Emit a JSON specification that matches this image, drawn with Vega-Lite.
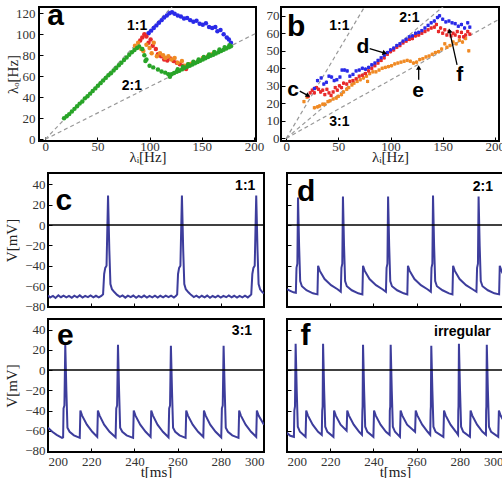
{
  "$schema": "https://vega.github.io/schema/vega-lite/v6.json",
  "padding": {"left": 2, "top": 0, "right": 0, "bottom": 0},
  "background": "white",
  "datasets": {
    "scatterA": [
      {"x":99,"y":101,"c":"blue"},{"x":101.5,"y":103.5,"c":"blue"},{"x":104,"y":106,"c":"blue"},{"x":106.5,"y":108.5,"c":"blue"},{"x":109,"y":111,"c":"blue"},{"x":111.5,"y":113.5,"c":"blue"},{"x":114,"y":116,"c":"blue"},{"x":116.5,"y":118,"c":"blue"},{"x":119,"y":120,"c":"blue"},{"x":121.5,"y":121,"c":"blue"},{"x":124,"y":119.5,"c":"blue"},{"x":127,"y":118,"c":"blue"},{"x":130,"y":117,"c":"blue"},{"x":133,"y":115,"c":"blue"},{"x":136,"y":115.5,"c":"blue"},{"x":139,"y":113.5,"c":"blue"},{"x":142,"y":112,"c":"blue"},{"x":145,"y":113,"c":"blue"},{"x":148,"y":110,"c":"blue"},{"x":151,"y":109,"c":"blue"},{"x":154,"y":110.5,"c":"blue"},{"x":157,"y":107,"c":"blue"},{"x":160,"y":106,"c":"blue"},{"x":163,"y":107,"c":"blue"},{"x":165,"y":103,"c":"blue"},{"x":168,"y":104,"c":"blue"},{"x":171,"y":100,"c":"blue"},{"x":174,"y":97,"c":"blue"},{"x":176,"y":95,"c":"blue"},{"x":178,"y":92,"c":"blue"},
      {"x":91,"y":94,"c":"red"},{"x":93,"y":97,"c":"red"},{"x":95,"y":100,"c":"red"},{"x":97,"y":98,"c":"red"},{"x":99,"y":92,"c":"red"},{"x":101,"y":95,"c":"red"},{"x":103,"y":89,"c":"red"},{"x":106,"y":86,"c":"red"},{"x":108,"y":81,"c":"red"},{"x":111,"y":79,"c":"red"},{"x":114,"y":76,"c":"red"},{"x":117,"y":75,"c":"red"},{"x":120,"y":77,"c":"red"},{"x":123,"y":74.5,"c":"red"},{"x":126,"y":73,"c":"red"},{"x":129,"y":71.5,"c":"red"},{"x":132,"y":70,"c":"red"},{"x":135,"y":67,"c":"red"},
      {"x":86,"y":89,"c":"orange"},{"x":89,"y":92,"c":"orange"},{"x":92,"y":86,"c":"orange"},{"x":94,"y":84,"c":"orange"},{"x":97,"y":90,"c":"orange"},{"x":100,"y":87,"c":"orange"},{"x":102,"y":82,"c":"orange"},{"x":104,"y":92,"c":"orange"},{"x":107,"y":79,"c":"orange"},{"x":110,"y":82,"c":"orange"},{"x":113,"y":80,"c":"orange"},{"x":115,"y":77.5,"c":"orange"},{"x":118,"y":79,"c":"orange"},{"x":121,"y":76,"c":"orange"},{"x":124,"y":77.5,"c":"orange"},{"x":127,"y":73,"c":"orange"},{"x":131,"y":74.5,"c":"orange"},{"x":134,"y":70,"c":"orange"},{"x":137,"y":71.5,"c":"orange"},{"x":140,"y":72,"c":"orange"},{"x":143,"y":73,"c":"orange"},{"x":147,"y":74.5,"c":"orange"},{"x":151,"y":77.5,"c":"orange"},{"x":156,"y":79,"c":"orange"},{"x":160,"y":81,"c":"orange"},
      {"x":18,"y":20,"c":"green"},{"x":20.5,"y":22,"c":"green"},{"x":23,"y":24,"c":"green"},{"x":25.5,"y":26.5,"c":"green"},{"x":28,"y":29,"c":"green"},{"x":30.5,"y":31.5,"c":"green"},{"x":33,"y":34,"c":"green"},{"x":35.5,"y":36,"c":"green"},{"x":38,"y":39,"c":"green"},{"x":40.5,"y":41,"c":"green"},{"x":43,"y":43.5,"c":"green"},{"x":45.5,"y":46,"c":"green"},{"x":48,"y":48.5,"c":"green"},{"x":50.5,"y":51,"c":"green"},{"x":53,"y":53.5,"c":"green"},{"x":55.5,"y":56,"c":"green"},{"x":58,"y":58.5,"c":"green"},{"x":60.5,"y":61,"c":"green"},{"x":63,"y":63,"c":"green"},{"x":65.5,"y":65.5,"c":"green"},{"x":68,"y":68,"c":"green"},{"x":70.5,"y":70.5,"c":"green"},{"x":73,"y":73,"c":"green"},{"x":75.5,"y":75.5,"c":"green"},{"x":78,"y":78,"c":"green"},{"x":80.5,"y":80.5,"c":"green"},{"x":83,"y":83,"c":"green"},{"x":85.5,"y":85,"c":"green"},{"x":88,"y":87,"c":"green"},{"x":90,"y":88.5,"c":"green"},
      {"x":93,"y":86,"c":"green"},{"x":95,"y":80,"c":"green"},{"x":97,"y":76,"c":"green"},{"x":96,"y":74.5,"c":"green"},{"x":100,"y":70,"c":"green"},{"x":103.5,"y":68.5,"c":"green"},{"x":108,"y":66.5,"c":"green"},{"x":111.5,"y":64.5,"c":"green"},{"x":115,"y":63.5,"c":"green"},{"x":118,"y":62,"c":"green"},{"x":119.5,"y":59.5,"c":"green"},
      {"x":121,"y":62,"c":"green"},{"x":123.5,"y":63.1,"c":"green"},{"x":126,"y":64.3,"c":"green"},{"x":128.5,"y":65.4,"c":"green"},{"x":131,"y":66.6,"c":"green"},{"x":133.5,"y":67.8,"c":"green"},{"x":136,"y":69,"c":"green"},{"x":138.5,"y":70.1,"c":"green"},{"x":141,"y":71.3,"c":"green"},{"x":143.5,"y":72.5,"c":"green"},{"x":146,"y":73.6,"c":"green"},{"x":148.5,"y":74.8,"c":"green"},{"x":151,"y":76,"c":"green"},{"x":153.5,"y":77.1,"c":"green"},{"x":156,"y":78.3,"c":"green"},{"x":158.5,"y":79.5,"c":"green"},{"x":161,"y":80.6,"c":"green"},{"x":163.5,"y":81.8,"c":"green"},{"x":166,"y":83,"c":"green"},{"x":168.5,"y":84.2,"c":"green"},{"x":171,"y":85.3,"c":"green"},{"x":173.5,"y":86.5,"c":"green"},{"x":176,"y":87.7,"c":"green"},{"x":178,"y":88.6,"c":"green"},
      {"x":127,"y":66.7,"c":"green"},{"x":132,"y":69,"c":"green"},{"x":137,"y":71.4,"c":"green"},{"x":142,"y":73.8,"c":"green"},{"x":147,"y":76.1,"c":"green"},{"x":152,"y":78.4,"c":"green"},{"x":157,"y":80.8,"c":"green"},{"x":162,"y":83.1,"c":"green"},{"x":167,"y":85.5,"c":"green"},{"x":172,"y":87.8,"c":"green"},{"x":176.5,"y":89.5,"c":"green"}
    ],
    "scatterB": [
      {"x":17,"y":21,"c":"orange","err":1},{"x":20,"y":23.5,"c":"orange","err":1},{"x":27,"y":17.5,"c":"orange","err":1},{"x":30,"y":18,"c":"orange","err":1},{"x":32,"y":18.5,"c":"orange","err":1},{"x":35,"y":19.5,"c":"orange","err":1},{"x":37,"y":19.5,"c":"orange","err":1},{"x":40,"y":21,"c":"orange","err":1},{"x":42,"y":21.5,"c":"orange","err":1},{"x":45,"y":22.5,"c":"orange","err":1},{"x":48,"y":23,"c":"orange","err":1},{"x":50,"y":24,"c":"orange","err":1},{"x":53,"y":25,"c":"orange","err":1},{"x":55,"y":26.5,"c":"orange","err":1},{"x":58,"y":28,"c":"orange","err":1},{"x":60,"y":29,"c":"orange","err":1},{"x":63,"y":30.5,"c":"orange","err":1},{"x":65,"y":31.5,"c":"orange","err":1},{"x":68,"y":32.5,"c":"orange","err":1},{"x":71,"y":33.5,"c":"orange","err":1},{"x":74,"y":34.5,"c":"orange","err":1},{"x":77,"y":35.5,"c":"orange","err":1},{"x":78,"y":32.5,"c":"orange","err":1},{"x":80,"y":37,"c":"orange","err":1},{"x":83,"y":38,"c":"orange","err":1},{"x":86,"y":38,"c":"orange","err":1},{"x":89,"y":39,"c":"orange","err":1},{"x":92,"y":40,"c":"orange","err":1},{"x":95,"y":40.5,"c":"orange","err":1},{"x":98,"y":41,"c":"orange","err":1},{"x":101,"y":41.5,"c":"orange","err":1},{"x":104,"y":42.5,"c":"orange","err":1},{"x":107,"y":43,"c":"orange","err":1},{"x":110,"y":43.5,"c":"orange","err":1},{"x":113,"y":44,"c":"orange","err":1},{"x":116,"y":44.5,"c":"orange","err":1},{"x":119,"y":44,"c":"orange","err":1},{"x":122,"y":43,"c":"orange","err":1},{"x":125,"y":43.5,"c":"orange","err":1},{"x":128,"y":45,"c":"orange","err":1},{"x":131,"y":45.5,"c":"orange","err":1},{"x":134,"y":46.5,"c":"orange","err":1},{"x":137,"y":47,"c":"orange","err":1},{"x":140,"y":48,"c":"orange","err":1},{"x":143,"y":49,"c":"orange","err":1},{"x":146,"y":49.5,"c":"orange","err":1},{"x":149,"y":51,"c":"orange","err":1},{"x":152,"y":54,"c":"orange","err":1},{"x":154,"y":52,"c":"orange","err":1},{"x":157,"y":53,"c":"orange","err":1},{"x":160,"y":55,"c":"orange","err":1},{"x":163,"y":54,"c":"orange","err":1},{"x":166,"y":56,"c":"orange","err":1},{"x":169,"y":55,"c":"orange","err":1},{"x":172,"y":57,"c":"orange","err":1},{"x":175,"y":50,"c":"orange","err":1},
      {"x":21,"y":24,"c":"red","err":1},{"x":23,"y":26,"c":"red","err":1},{"x":25,"y":27.5,"c":"red","err":1},{"x":27,"y":26,"c":"red","err":1},{"x":29,"y":29,"c":"red","err":1},{"x":31,"y":28,"c":"red","err":1},{"x":33,"y":26.5,"c":"red","err":1},{"x":35,"y":27.5,"c":"red","err":1},{"x":37,"y":25,"c":"red","err":1},{"x":39,"y":28,"c":"red","err":1},{"x":41,"y":26,"c":"red","err":1},{"x":43,"y":24.5,"c":"red","err":1},{"x":45,"y":26.5,"c":"red","err":1},{"x":47,"y":29,"c":"red","err":1},{"x":49,"y":27.5,"c":"red","err":1},{"x":51,"y":30,"c":"red","err":1},{"x":53,"y":29,"c":"red","err":1},{"x":55,"y":31.5,"c":"red","err":1},{"x":58,"y":31,"c":"red","err":1},{"x":61,"y":32.5,"c":"red","err":1},{"x":64,"y":33,"c":"red","err":1},{"x":67,"y":34,"c":"red","err":1},{"x":70,"y":35.5,"c":"red","err":1},{"x":73,"y":36,"c":"red","err":1},{"x":76,"y":37,"c":"red","err":1},{"x":79,"y":38.5,"c":"red","err":1},{"x":82,"y":40,"c":"red","err":1},{"x":85,"y":41.5,"c":"red","err":1},{"x":88,"y":43,"c":"red","err":1},{"x":91,"y":44.5,"c":"red","err":1},{"x":94,"y":46,"c":"red","err":1},{"x":97,"y":48,"c":"red","err":1},{"x":100,"y":49.5,"c":"red","err":1},{"x":103,"y":50.5,"c":"red","err":1},{"x":106,"y":52,"c":"red","err":1},{"x":109,"y":53,"c":"red","err":1},{"x":112,"y":54.5,"c":"red","err":1},{"x":115,"y":55.5,"c":"red","err":1},{"x":118,"y":56.5,"c":"red","err":1},{"x":121,"y":57,"c":"red","err":1},{"x":124,"y":58.5,"c":"red","err":1},{"x":127,"y":59,"c":"red","err":1},{"x":130,"y":60,"c":"red","err":1},{"x":133,"y":61,"c":"red","err":1},{"x":136,"y":62,"c":"red","err":1},{"x":139,"y":63,"c":"red","err":1},{"x":142,"y":63.5,"c":"red","err":1},{"x":144,"y":65,"c":"red","err":1},{"x":146,"y":61,"c":"red","err":1},{"x":148,"y":63,"c":"red","err":1},{"x":150,"y":60,"c":"red","err":1},{"x":152,"y":62,"c":"red","err":1},{"x":154,"y":59,"c":"red","err":1},{"x":156,"y":61,"c":"red","err":1},{"x":158,"y":58.5,"c":"red","err":1},{"x":160,"y":60,"c":"red","err":1},{"x":162,"y":59,"c":"red","err":1},{"x":164,"y":61,"c":"red","err":1},{"x":166,"y":58,"c":"red","err":1},{"x":168,"y":60.5,"c":"red","err":1},{"x":170,"y":58,"c":"red","err":1},{"x":172,"y":59,"c":"red","err":1},{"x":174,"y":61,"c":"red","err":1},{"x":176,"y":59.5,"c":"red","err":1},
      {"x":27,"y":28.5,"c":"blue","err":1},{"x":30,"y":33,"c":"blue","err":1},{"x":33.5,"y":34.5,"c":"blue","err":1},{"x":36,"y":31,"c":"blue","err":1},{"x":38.5,"y":32,"c":"blue","err":1},{"x":41,"y":35.5,"c":"blue","err":1},{"x":43.5,"y":35,"c":"blue","err":1},{"x":46,"y":33,"c":"blue","err":1},{"x":48.5,"y":33.5,"c":"blue","err":1},{"x":51.5,"y":35,"c":"blue","err":1},{"x":53.5,"y":39,"c":"blue","err":1},{"x":56,"y":39,"c":"blue","err":1},{"x":58.5,"y":38.5,"c":"blue","err":1},{"x":61,"y":35.5,"c":"blue","err":1},{"x":64,"y":36.5,"c":"blue","err":1},{"x":67,"y":38.5,"c":"blue","err":1},{"x":70,"y":39,"c":"blue","err":1},{"x":73,"y":40,"c":"blue","err":1},{"x":76,"y":39.5,"c":"blue","err":1},{"x":79,"y":40.5,"c":"blue","err":1},{"x":82,"y":42,"c":"blue","err":1},{"x":85,"y":43,"c":"blue","err":1},{"x":88,"y":44.5,"c":"blue","err":1},{"x":91,"y":46,"c":"blue","err":1},{"x":94,"y":47.5,"c":"blue","err":1},{"x":97,"y":49,"c":"blue","err":1},{"x":100,"y":50.5,"c":"blue","err":1},{"x":103,"y":51.5,"c":"blue","err":1},{"x":106,"y":53,"c":"blue","err":1},{"x":109,"y":54,"c":"blue","err":1},{"x":112,"y":55.5,"c":"blue","err":1},{"x":115,"y":56.5,"c":"blue","err":1},{"x":118,"y":58,"c":"blue","err":1},{"x":121,"y":58.5,"c":"blue","err":1},{"x":124,"y":60,"c":"blue","err":1},{"x":127,"y":60.5,"c":"blue","err":1},{"x":130,"y":61.5,"c":"blue","err":1},{"x":133,"y":63,"c":"blue","err":1},{"x":136,"y":64.5,"c":"blue","err":1},{"x":139,"y":66,"c":"blue","err":1},{"x":142,"y":67,"c":"blue","err":1},{"x":145,"y":69,"c":"blue","err":1},{"x":147,"y":70,"c":"blue","err":1},{"x":150,"y":68,"c":"blue","err":1},{"x":153,"y":66.5,"c":"blue","err":1},{"x":156,"y":67,"c":"blue","err":1},{"x":159,"y":66,"c":"blue","err":1},{"x":162,"y":65.5,"c":"blue","err":1},{"x":165,"y":64,"c":"blue","err":1},{"x":168,"y":65,"c":"blue","err":1},{"x":171,"y":63,"c":"blue","err":1},{"x":174,"y":66,"c":"blue","err":1},{"x":176,"y":63.5,"c":"blue","err":1}
    ],
    "traceC": [
      {"t":200,"v":-69},{"t":201,"v":-71},{"t":202.3,"v":-69.5},{"t":203.5,"v":-71.5},{"t":204.8,"v":-69},{"t":206,"v":-70.8},{"t":207.2,"v":-69.2},{"t":208.5,"v":-71},{"t":209.7,"v":-69.6},{"t":211,"v":-71.3},{"t":212.2,"v":-69.3},{"t":213.5,"v":-70.9},{"t":214.7,"v":-69},{"t":216,"v":-71.2},{"t":217.2,"v":-69.5},{"t":218.5,"v":-70.7},{"t":219.7,"v":-69.1},{"t":221,"v":-71},{"t":222.2,"v":-69.4},{"t":223.5,"v":-71},{"t":224.7,"v":-69.5},{"t":225.5,"v":-68},{"t":226,"v":-48},{"t":226.5,"v":-42},{"t":227.1,"v":-40},{"t":227.8,"v":29},{"t":228.4,"v":-25},{"t":228.9,"v":-58},{"t":229.6,"v":-63},{"t":230.8,"v":-66},{"t":232,"v":-68.5},{"t":233.3,"v":-70.5},{"t":234.5,"v":-69},{"t":235.8,"v":-71.2},{"t":237,"v":-69.3},{"t":238.3,"v":-70.8},{"t":239.5,"v":-69.2},{"t":240.8,"v":-71.3},{"t":242,"v":-69.6},{"t":243.3,"v":-71},{"t":244.5,"v":-69.2},{"t":245.8,"v":-71.1},{"t":247,"v":-69.5},{"t":248.3,"v":-70.9},{"t":249.5,"v":-69.3},{"t":250.8,"v":-71.2},{"t":252,"v":-69.4},{"t":253.3,"v":-71},{"t":254.5,"v":-69.3},{"t":255.8,"v":-70.8},{"t":257,"v":-69.2},{"t":258.3,"v":-71.1},{"t":259.3,"v":-69.4},{"t":259.8,"v":-68},{"t":260.2,"v":-48},{"t":260.7,"v":-42},{"t":261.3,"v":-40},{"t":262,"v":29},{"t":262.6,"v":-25},{"t":263.1,"v":-58},{"t":263.8,"v":-63},{"t":265,"v":-66},{"t":266.2,"v":-68.5},{"t":267.5,"v":-70.6},{"t":268.7,"v":-69.2},{"t":270,"v":-71.2},{"t":271.2,"v":-69.4},{"t":272.5,"v":-70.9},{"t":273.7,"v":-69.2},{"t":275,"v":-71.3},{"t":276.2,"v":-69.6},{"t":277.5,"v":-71},{"t":278.7,"v":-69.3},{"t":280,"v":-71.2},{"t":281.2,"v":-69.5},{"t":282.5,"v":-70.8},{"t":283.7,"v":-69.1},{"t":285,"v":-71},{"t":286.2,"v":-69.4},{"t":287.5,"v":-71.2},{"t":288.7,"v":-69.5},{"t":290,"v":-70.9},{"t":291.2,"v":-69.3},{"t":292.5,"v":-71},{"t":293.6,"v":-69.2},{"t":294.1,"v":-68},{"t":294.6,"v":-48},{"t":295.1,"v":-42},{"t":295.7,"v":-40},{"t":296.4,"v":29},{"t":297,"v":-25},{"t":297.5,"v":-58},{"t":298.2,"v":-63},{"t":299.3,"v":-66},{"t":300,"v":-67}
    ],
    "traceD": [
      {"t":200,"v":-63},{"t":201.5,"v":-64.5},{"t":203,"v":-66},{"t":204.1,"v":-66.5},{"t":204.4,"v":-42},{"t":204.8,"v":-38},{"t":205.1,"v":27},{"t":205.6,"v":-20},{"t":206.1,"v":-55},{"t":206.9,"v":-60},{"t":209,"v":-64},{"t":212,"v":-67},{"t":214.1,"v":-68},{"t":214.4,"v":-40},{"t":215.2,"v":-45},{"t":217.4,"v":-53},{"t":220.4,"v":-59},{"t":223.4,"v":-63},{"t":224.9,"v":-65.5},{"t":225.2,"v":-42},{"t":225.6,"v":-38},{"t":225.9,"v":28},{"t":226.4,"v":-20},{"t":226.9,"v":-55},{"t":227.7,"v":-60},{"t":230,"v":-64},{"t":233,"v":-67},{"t":234.9,"v":-68},{"t":235.2,"v":-40},{"t":236,"v":-45},{"t":238.2,"v":-53},{"t":241.2,"v":-59},{"t":244.2,"v":-63},{"t":245.8,"v":-65.5},{"t":246.1,"v":-42},{"t":246.5,"v":-38},{"t":246.8,"v":28},{"t":247.3,"v":-20},{"t":247.8,"v":-55},{"t":248.6,"v":-60},{"t":251,"v":-64},{"t":254,"v":-67},{"t":255.7,"v":-68},{"t":256,"v":-40},{"t":256.8,"v":-45},{"t":259,"v":-53},{"t":262,"v":-59},{"t":265,"v":-63},{"t":266.6,"v":-65.5},{"t":266.9,"v":-42},{"t":267.3,"v":-38},{"t":267.6,"v":29},{"t":268.1,"v":-20},{"t":268.6,"v":-55},{"t":269.4,"v":-60},{"t":272,"v":-64},{"t":275,"v":-67},{"t":276.6,"v":-68},{"t":276.9,"v":-40},{"t":277.7,"v":-45},{"t":279.9,"v":-53},{"t":282.9,"v":-59},{"t":285.9,"v":-63},{"t":287.7,"v":-65.5},{"t":288,"v":-42},{"t":288.4,"v":-38},{"t":288.7,"v":28},{"t":289.2,"v":-20},{"t":289.7,"v":-55},{"t":290.5,"v":-60},{"t":293,"v":-64},{"t":296,"v":-67},{"t":298.2,"v":-68},{"t":298.5,"v":-40},{"t":299.3,"v":-45},{"t":300,"v":-48}
    ],
    "traceE": [
      {"t":200,"v":-57},{"t":202,"v":-61},{"t":204,"v":-64},{"t":206.5,"v":-67},{"t":207,"v":-66.5},{"t":207.2,"v":-38},{"t":207.6,"v":-35},{"t":208,"v":25},{"t":208.5,"v":-20},{"t":209,"v":-57},{"t":210,"v":-61},{"t":212,"v":-64.5},{"t":214.7,"v":-67},{"t":215,"v":-40},{"t":215.8,"v":-45},{"t":218,"v":-54},{"t":220.5,"v":-61},{"t":222.8,"v":-66},{"t":223.1,"v":-40},{"t":223.9,"v":-45},{"t":226,"v":-54},{"t":228.5,"v":-61},{"t":231.3,"v":-66.5},{"t":231.6,"v":-38},{"t":232,"v":-35},{"t":232.4,"v":25},{"t":232.9,"v":-20},{"t":233.4,"v":-57},{"t":234.4,"v":-61},{"t":236.4,"v":-64.5},{"t":239.4,"v":-67},{"t":239.7,"v":-40},{"t":240.5,"v":-45},{"t":242.7,"v":-54},{"t":245.2,"v":-61},{"t":247.5,"v":-66},{"t":247.8,"v":-40},{"t":248.6,"v":-45},{"t":250.7,"v":-54},{"t":253.2,"v":-61},{"t":255.8,"v":-66.5},{"t":256.1,"v":-38},{"t":256.5,"v":-35},{"t":256.9,"v":24},{"t":257.4,"v":-20},{"t":257.9,"v":-57},{"t":258.9,"v":-61},{"t":260.9,"v":-64.5},{"t":263.7,"v":-67},{"t":264,"v":-40},{"t":264.8,"v":-45},{"t":267,"v":-54},{"t":269.5,"v":-61},{"t":271.9,"v":-66},{"t":272.2,"v":-40},{"t":273,"v":-45},{"t":275.1,"v":-54},{"t":277.6,"v":-61},{"t":280.2,"v":-66.5},{"t":280.5,"v":-38},{"t":280.9,"v":-35},{"t":281.3,"v":24},{"t":281.8,"v":-20},{"t":282.3,"v":-57},{"t":283.3,"v":-61},{"t":285.3,"v":-64.5},{"t":288.2,"v":-67},{"t":288.5,"v":-40},{"t":289.3,"v":-45},{"t":291.5,"v":-54},{"t":294,"v":-61},{"t":296.4,"v":-66},{"t":296.7,"v":-40},{"t":297.5,"v":-45},{"t":299.7,"v":-53},{"t":300,"v":-54}
    ],
    "traceF": [
      {"t":200,"v":-62},{"t":201.5,"v":-65},{"t":203.2,"v":-66},{"t":203.4,"v":-40},{"t":203.7,"v":-36},{"t":204,"v":26},{"t":204.5,"v":-20},{"t":205,"v":-56},{"t":206,"v":-61},{"t":208.6,"v":-66},{"t":208.9,"v":-40},{"t":209.7,"v":-45},{"t":211.9,"v":-54},{"t":214.4,"v":-61},{"t":216.1,"v":-64},{"t":216.3,"v":-40},{"t":216.5,"v":-36},{"t":216.7,"v":26},{"t":217.2,"v":-20},{"t":217.7,"v":-56},{"t":218.7,"v":-61},{"t":221.5,"v":-66},{"t":221.8,"v":-40},{"t":222.6,"v":-45},{"t":224.8,"v":-54},{"t":227.6,"v":-60},{"t":227.9,"v":-40},{"t":228.7,"v":-45},{"t":230.9,"v":-54},{"t":233.4,"v":-61},{"t":234.7,"v":-64},{"t":234.9,"v":-40},{"t":235,"v":-36},{"t":235.2,"v":25},{"t":235.7,"v":-20},{"t":236.2,"v":-56},{"t":237.2,"v":-61},{"t":240,"v":-66},{"t":240.3,"v":-40},{"t":241.1,"v":-45},{"t":243.3,"v":-54},{"t":245.8,"v":-61},{"t":247.5,"v":-64},{"t":247.6,"v":-40},{"t":247.8,"v":-36},{"t":248,"v":25},{"t":248.5,"v":-20},{"t":249,"v":-56},{"t":250,"v":-61},{"t":252.3,"v":-66},{"t":252.6,"v":-40},{"t":253.4,"v":-45},{"t":255.6,"v":-54},{"t":259.3,"v":-61},{"t":259.6,"v":-40},{"t":260.4,"v":-45},{"t":262.6,"v":-54},{"t":265.1,"v":-61},{"t":266.3,"v":-64},{"t":266.5,"v":-40},{"t":266.6,"v":-36},{"t":266.8,"v":24},{"t":267.3,"v":-20},{"t":267.8,"v":-56},{"t":268.8,"v":-61},{"t":272.4,"v":-66},{"t":272.7,"v":-40},{"t":273.5,"v":-45},{"t":275.7,"v":-54},{"t":278.2,"v":-61},{"t":279.2,"v":-64},{"t":279.3,"v":-40},{"t":279.4,"v":-36},{"t":279.6,"v":26},{"t":280.1,"v":-20},{"t":280.6,"v":-56},{"t":281.6,"v":-61},{"t":284.7,"v":-66},{"t":285,"v":-40},{"t":285.8,"v":-45},{"t":288,"v":-54},{"t":290.5,"v":-61},{"t":292.1,"v":-64},{"t":292.2,"v":-40},{"t":292.3,"v":-36},{"t":292.5,"v":25},{"t":293,"v":-20},{"t":293.5,"v":-56},{"t":294.5,"v":-61},{"t":297.8,"v":-66},{"t":298.1,"v":-40},{"t":298.9,"v":-45},{"t":300,"v":-49}
    ]
  },
  "concat": [
    {
      "hconcat": [
        {
          "width": 217, "height": 134,
          "encoding": {
            "x": {"field": "x", "type": "quantitative", "scale": {"domain": [-6, 202], "nice": false, "zero": false}, "axis": {"values": [0, 50, 100, 150, 200], "title": "λᵢ[Hz]", "labelPadding": 3, "titleY": 15, "titleBaseline": "middle"}},
            "y": {"field": "y", "type": "quantitative", "scale": {"domain": [-1.6, 126], "nice": false, "zero": false}, "axis": {"values": [0, 20, 40, 60, 80, 100, 120], "title": "λₒ[Hz]", "labelPadding": 8, "titleX": -27, "titleBaseline": "middle"}}
          },
          "layer": [
            {"data": {"values": [{"x": 0, "y": 0, "x2": 130, "y2": 135}, {"x": 0, "y": 0, "x2": 210, "y2": 105}]}, "mark": {"type": "rule", "color": "#999", "strokeDash": [4, 3], "strokeWidth": 1.2, "clip": true}, "encoding": {"x2": {"field": "x2"}, "y2": {"field": "y2"}}},
            {"data": {"name": "scatterA"}, "mark": {"type": "point", "filled": true, "size": 20, "opacity": 1}, "encoding": {"color": {"field": "c", "type": "nominal", "scale": {"domain": ["blue", "red", "orange", "green"], "range": ["#2a2ae8", "#e82a2a", "#f08a24", "#28a428"]}, "legend": null}}},
            {"data": {"values": [{"x": 10, "y": 117, "label": "a"}]}, "mark": {"type": "text", "font": "Liberation Sans", "fontWeight": "bold", "fontSize": 30, "color": "#000"}, "encoding": {"text": {"field": "label"}}},
            {"data": {"values": [{"x": 88, "y": 108, "label": "1:1"}, {"x": 83, "y": 51, "label": "2:1"}]}, "mark": {"type": "text", "font": "Liberation Sans", "fontWeight": "bold", "fontSize": 14, "color": "#000"}, "encoding": {"text": {"field": "label"}}}
          ]
        },
        {
          "width": 218, "height": 134,
          "encoding": {
            "x": {"field": "x", "type": "quantitative", "scale": {"domain": [-5, 204], "nice": false, "zero": false}, "axis": {"values": [0, 50, 100, 150, 200], "title": "λᵢ[Hz]", "labelPadding": 3, "titleY": 15, "titleBaseline": "middle"}},
            "y": {"field": "y", "type": "quantitative", "scale": {"domain": [-1.5, 75], "nice": false, "zero": false}, "axis": {"values": [0, 10, 20, 30, 40, 50, 60, 70], "title": null, "labelPadding": 6}}
          },
          "layer": [
            {"data": {"values": [{"x": 0, "y": 0, "x2": 80, "y2": 80}, {"x": 0, "y": 0, "x2": 160, "y2": 80}, {"x": 0, "y": 0, "x2": 210, "y2": 70}]}, "mark": {"type": "rule", "color": "#999", "strokeDash": [4, 3], "strokeWidth": 1.2, "clip": true}, "encoding": {"x2": {"field": "x2"}, "y2": {"field": "y2"}}},
            {"data": {"name": "scatterB"}, "mark": {"type": "errorbar", "thickness": 1}, "encoding": {"yError": {"field": "err"}, "color": {"field": "c", "type": "nominal", "scale": {"domain": ["blue", "red", "orange", "green"], "range": ["#2a2ae8", "#e82a2a", "#f08a24", "#28a428"]}, "legend": null}}},
            {"data": {"name": "scatterB"}, "mark": {"type": "point", "filled": true, "shape": "square", "size": 10, "opacity": 1}, "encoding": {"color": {"field": "c", "type": "nominal", "scale": {"domain": ["blue", "red", "orange", "green"], "range": ["#2a2ae8", "#e82a2a", "#f08a24", "#28a428"]}, "legend": null}}},
            {"data": {"values": [{"x": 13, "y": 27, "x2": 21, "y2": 24.4}, {"x": 80, "y": 51.3, "x2": 94.5, "y2": 48.7}, {"x": 127, "y": 33.5, "x2": 127, "y2": 40.5}, {"x": 163.8, "y": 42, "x2": 156.5, "y2": 61.5}]}, "mark": {"type": "rule", "color": "#000", "strokeWidth": 1.3}, "encoding": {"x2": {"field": "x2"}, "y2": {"field": "y2"}}},
            {"data": {"values": [{"x": 21, "y": 24.4}]}, "mark": {"type": "point", "shape": "triangle-up", "filled": true, "size": 28, "color": "#000", "opacity": 1, "angle": 119}},
            {"data": {"values": [{"x": 94.5, "y": 48.7}]}, "mark": {"type": "point", "shape": "triangle-up", "filled": true, "size": 28, "color": "#000", "opacity": 1, "angle": 107}},
            {"data": {"values": [{"x": 127, "y": 40.5}]}, "mark": {"type": "point", "shape": "triangle-up", "filled": true, "size": 28, "color": "#000", "opacity": 1, "angle": 0}},
            {"data": {"values": [{"x": 156.5, "y": 61.5}]}, "mark": {"type": "point", "shape": "triangle-up", "filled": true, "size": 28, "color": "#000", "opacity": 1, "angle": 348}},
            {"data": {"values": [{"x": 9.6, "y": 63.5, "label": "b"}]}, "mark": {"type": "text", "font": "Liberation Sans", "fontWeight": "bold", "fontSize": 30, "color": "#000"}, "encoding": {"text": {"field": "label"}}},
            {"data": {"values": [{"x": 51, "y": 64.4, "label": "1:1"}, {"x": 118, "y": 69, "label": "2:1"}, {"x": 51, "y": 9.6, "label": "3:1"}]}, "mark": {"type": "text", "font": "Liberation Sans", "fontWeight": "bold", "fontSize": 14, "color": "#000"}, "encoding": {"text": {"field": "label"}}},
            {"data": {"values": [{"x": 6.5, "y": 27.9, "label": "c"}, {"x": 73.6, "y": 52.3, "label": "d"}, {"x": 126.4, "y": 27, "label": "e"}, {"x": 166.4, "y": 36.3, "label": "f"}]}, "mark": {"type": "text", "font": "Liberation Sans", "fontWeight": "bold", "fontSize": 21, "color": "#000"}, "encoding": {"text": {"field": "label"}}}
          ]
        }
      ],
      "spacing": 25,
      "bounds": "flush"
    },
    {
      "hconcat": [
        {
          "width": 9, "height": 10,
          "view": {"stroke": null},
          "data": {"values": [{"s": ""}]},
          "mark": {"type": "text"},
          "encoding": {"text": {"field": "s"}}
        },
        {
          "concat": [
            {
              "width": 216, "height": 134,
              "encoding": {
                "x": {"field": "t", "type": "quantitative", "scale": {"domain": [200, 300], "nice": false, "zero": false}, "axis": {"values": [200, 220, 240, 260, 280, 300], "labels": false, "title": null}},
                "y": {"field": "v", "type": "quantitative", "scale": {"domain": [-80.4, 51], "nice": false, "zero": false}, "axis": {"values": [-80, -60, -40, -20, 0, 20, 40], "title": "V[mV]", "labelPadding": 7, "titleX": -37, "titleBaseline": "middle"}}
              },
              "layer": [
                {"data": {"name": "traceC"}, "mark": {"type": "line", "color": "#3d3d9c", "strokeWidth": 2, "clip": true}},
                {"data": {"values": [{"t": 200, "v": 0}, {"t": 300, "v": 0}]}, "mark": {"type": "line", "color": "#000", "strokeWidth": 1.5}},
                {"data": {"values": [{"t": 207.3, "v": 24, "label": "c"}]}, "mark": {"type": "text", "font": "Liberation Sans", "fontWeight": "bold", "fontSize": 30, "color": "#000"}, "encoding": {"text": {"field": "label"}}},
                {"data": {"values": [{"t": 291.3, "v": 38.5, "label": "1:1"}]}, "mark": {"type": "text", "font": "Liberation Sans", "fontWeight": "bold", "fontSize": 14, "color": "#000"}, "encoding": {"text": {"field": "label"}}}
              ]
            },
            {
              "width": 216, "height": 134,
              "encoding": {
                "x": {"field": "t", "type": "quantitative", "scale": {"domain": [200, 300], "nice": false, "zero": false}, "axis": {"values": [200, 220, 240, 260, 280, 300], "labels": false, "title": null}},
                "y": {"field": "v", "type": "quantitative", "scale": {"domain": [-80.4, 51], "nice": false, "zero": false}, "axis": {"values": [-80, -60, -40, -20, 0, 20, 40], "labels": false, "title": null}}
              },
              "layer": [
                {"data": {"name": "traceD"}, "mark": {"type": "line", "color": "#3d3d9c", "strokeWidth": 2, "clip": true}},
                {"data": {"values": [{"t": 200, "v": 0}, {"t": 300, "v": 0}]}, "mark": {"type": "line", "color": "#000", "strokeWidth": 1.5}},
                {"data": {"values": [{"t": 208.9, "v": 32, "label": "d"}]}, "mark": {"type": "text", "font": "Liberation Sans", "fontWeight": "bold", "fontSize": 30, "color": "#000"}, "encoding": {"text": {"field": "label"}}},
                {"data": {"values": [{"t": 290.7, "v": 37, "label": "2:1"}]}, "mark": {"type": "text", "font": "Liberation Sans", "fontWeight": "bold", "fontSize": 14, "color": "#000"}, "encoding": {"text": {"field": "label"}}}
              ]
            },
            {
              "width": 216, "height": 133,
              "encoding": {
                "x": {"field": "t", "type": "quantitative", "scale": {"domain": [200, 300], "nice": false, "zero": false}, "axis": {"values": [200, 220, 240, 260, 280, 300], "title": "t[ms]", "labelPadding": 7, "titleY": 19, "titleBaseline": "middle"}},
                "y": {"field": "v", "type": "quantitative", "scale": {"domain": [-81, 50.5], "nice": false, "zero": false}, "axis": {"values": [-80, -60, -40, -20, 0, 20, 40], "title": "V[mV]", "labelPadding": 7, "titleX": -37, "titleBaseline": "middle"}}
              },
              "layer": [
                {"data": {"name": "traceE"}, "mark": {"type": "line", "color": "#3d3d9c", "strokeWidth": 2, "clip": true}},
                {"data": {"values": [{"t": 200, "v": 0}, {"t": 300, "v": 0}]}, "mark": {"type": "line", "color": "#000", "strokeWidth": 1.5}},
                {"data": {"values": [{"t": 208, "v": 34, "label": "e"}]}, "mark": {"type": "text", "font": "Liberation Sans", "fontWeight": "bold", "fontSize": 30, "color": "#000"}, "encoding": {"text": {"field": "label"}}},
                {"data": {"values": [{"t": 289.8, "v": 38.6, "label": "3:1"}]}, "mark": {"type": "text", "font": "Liberation Sans", "fontWeight": "bold", "fontSize": 14, "color": "#000"}, "encoding": {"text": {"field": "label"}}}
              ]
            },
            {
              "width": 216, "height": 133,
              "encoding": {
                "x": {"field": "t", "type": "quantitative", "scale": {"domain": [200, 300], "nice": false, "zero": false}, "axis": {"values": [200, 220, 240, 260, 280, 300], "title": "t[ms]", "labelPadding": 7, "titleY": 19, "titleBaseline": "middle"}},
                "y": {"field": "v", "type": "quantitative", "scale": {"domain": [-81, 50.5], "nice": false, "zero": false}, "axis": {"values": [-80, -60, -40, -20, 0, 20, 40], "labels": false, "title": null}}
              },
              "layer": [
                {"data": {"name": "traceF"}, "mark": {"type": "line", "color": "#3d3d9c", "strokeWidth": 2, "clip": true}},
                {"data": {"values": [{"t": 200, "v": 0}, {"t": 300, "v": 0}]}, "mark": {"type": "line", "color": "#000", "strokeWidth": 1.5}},
                {"data": {"values": [{"t": 208.6, "v": 34, "label": "f"}]}, "mark": {"type": "text", "font": "Liberation Sans", "fontWeight": "bold", "fontSize": 30, "color": "#000"}, "encoding": {"text": {"field": "label"}}},
                {"data": {"values": [{"t": 281.2, "v": 37.3, "label": "irregular"}]}, "mark": {"type": "text", "font": "Liberation Sans", "fontWeight": "bold", "fontSize": 14, "color": "#000"}, "encoding": {"text": {"field": "label"}}}
              ]
            }
          ],
          "columns": 2,
          "spacing": {"row": 12, "column": 23},
          "bounds": "flush"
        }
      ],
      "spacing": 0,
      "bounds": "flush"
    }
  ],
  "columns": 1,
  "align": "none",
  "spacing": 7,
  "config": {
    "view": {"stroke": "#000", "strokeWidth": 2},
    "axis": {"domain": false, "grid": false, "tickSize": -4, "tickColor": "#000", "tickWidth": 1, "labelFont": "Liberation Serif", "labelFontSize": 13, "labelColor": "#333", "titleFont": "Liberation Serif", "titleFontSize": 15, "titleFontWeight": "normal", "titleColor": "#222"}
  }
}
